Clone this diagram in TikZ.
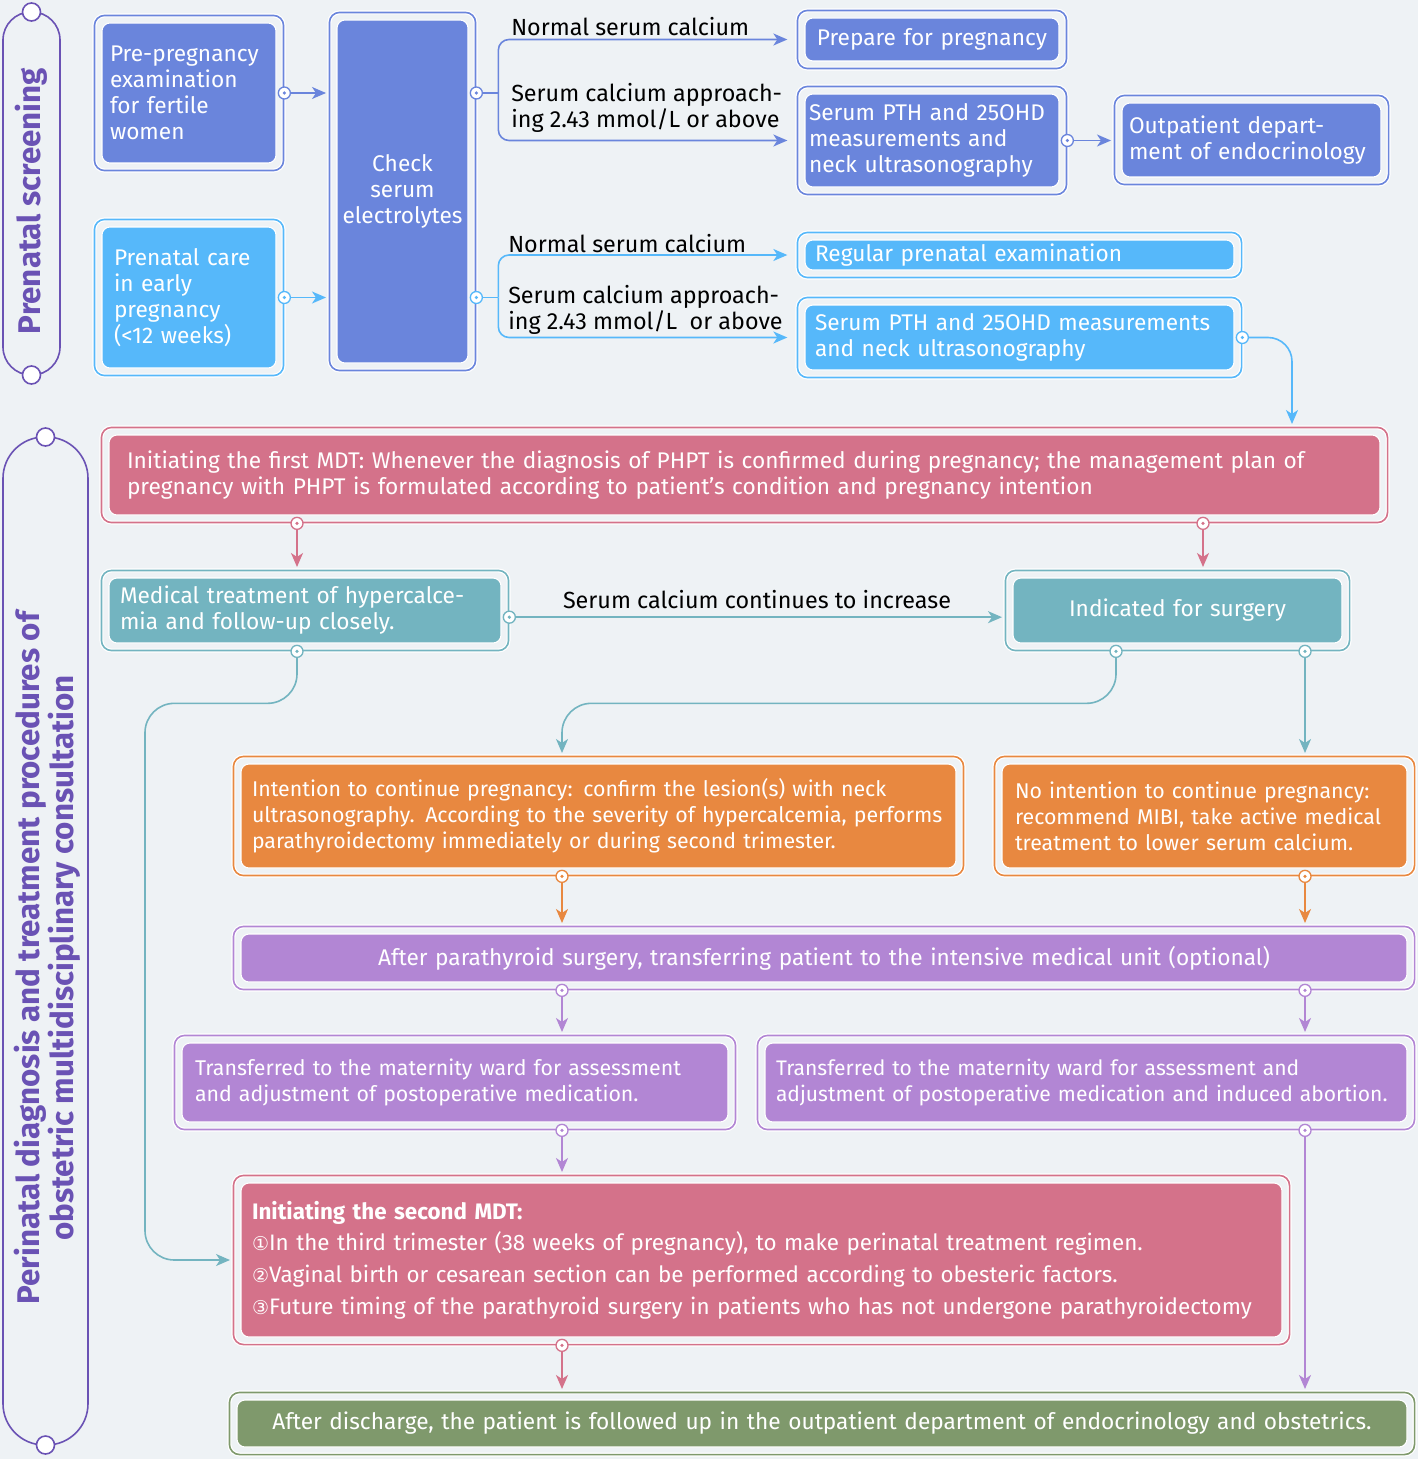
\documentclass[tikz,border=0pt]{standalone}
\usepackage{fontspec}
\setmainfont{Fira Sans}
\newfontfamily\circfont[Scale=0.85]{DejaVu Sans}
\usetikzlibrary{fit,arrows.meta}
\definecolor{bgc}{RGB}{238,242,245}
\definecolor{dblue}{RGB}{106,133,220}
\definecolor{lblue}{RGB}{86,184,250}
\definecolor{rose}{RGB}{212,114,138}
\definecolor{tealc}{RGB}{115,180,192}
\definecolor{orng}{RGB}{232,136,64}
\definecolor{lilac}{RGB}{178,134,212}
\definecolor{sage}{RGB}{127,153,108}
\definecolor{capc}{RGB}{106,82,180}
\newcommand{\boxfont}{\fontsize{17}{19.5}\selectfont}
\newcommand{\smallfont}{\fontsize{16}{19.5}\selectfont}
\newcommand{\lblfont}{\fontsize{17.5}{19.5}\selectfont}
\newcommand{\listfont}{\fontsize{16.8}{23.8}\selectfont}
\newcommand{\capfont}{\fontsize{23.5}{25.5}\selectfont\bfseries}

\begin{document}
\begin{tikzpicture}[x=0.75pt,y=0.75pt,yscale=-1,xscale=1,
    inbox/.style={inner ysep=0pt, fill=#1, draw=white, line width=0.8pt, rounded corners=6pt, text=white, font=\boxfont, align=left},
    frame/.style={inner sep=5.25pt, draw=#1, line width=1.2pt, rounded corners=7.5pt, preaction={draw=white, line width=3pt}},
    capline/.style={draw=capc, line width=1.2pt},
    captext/.style={rotate=90, text=capc, font=\capfont, align=center, inner sep=0pt},
    lnk/.style={draw=#1, line width=1.2pt},
    arr/.style={lnk=#1, -{Stealth[length=10.5pt, width=9pt, inset=3pt]}, shorten >=2pt},
    lbl/.style={inner sep=0pt, text=black, font=\lblfont, align=left},
    ring/.style={draw=#1, fill=white, line width=1pt}]
    %Background
    \path[use as bounding box, fill=bgc] (0,0) rectangle (1418,1459);
    %Capsules
    \draw[capline, rounded corners=21pt] (3,12) rectangle (60,375);
    \draw[capline, rounded corners=31pt] (3,437) rectangle (88,1445);
    \node[captext] (scr) at (31,201) {Prenatal screening};
    \node[captext] (peri) at (47,958) {Perinatal diagnosis and treatment procedures of\\obstetric multidisciplinary consultation};
    %Column positions
    \coordinate (cm) at (297,0);
    \coordinate (cs) at (1203,0);
    \coordinate (ck) at (1116,0);
    \coordinate (cl) at (562,0);
    \coordinate (cr) at (1305,0);
    \coordinate (ce) at (1292,0);
    %Rounded Rect
    \node[inbox=dblue, minimum width=130.5pt, minimum height=105pt, inner xsep=6pt, text width=118.5pt] (pre) at (189,93) {Pre-pregnancy\\examination\\for fertile\\women};
    \node[inbox=lblue, minimum width=130.5pt, minimum height=105.75pt, inner xsep=9pt, text width=112.5pt] (prc) at (189,297.5) {Prenatal care\\in early\\pregnancy\\(<12 weeks)};
    \node[inbox=dblue, minimum width=98.25pt, minimum height=257.25pt, inner xsep=1.5pt, text width=95.25pt, align=center] (chk) at (402.5,191.5) {Check\\serum\\electrolytes};
    \node[inbox=dblue, minimum width=190.5pt, minimum height=32.25pt, inner xsep=3pt, text width=184.5pt, align=center] (prep) at (932,39.5) {Prepare for pregnancy};
    \node[inbox=dblue, minimum width=190.5pt, minimum height=69.75pt, inner xsep=3pt, text width=184.5pt] (pth1) at (932,140.5) {Serum PTH and 25OHD\\measurements and\\neck ultrasonography};
    \node[inbox=dblue, minimum width=194.25pt, minimum height=55.5pt, inner xsep=5.25pt, text width=183.75pt] (out) at (1251.5,140) {Outpatient depart-\\ment of endocrinology};
    \node[inbox=lblue, minimum width=321.75pt, minimum height=22.5pt, inner xsep=7.5pt, text width=306.75pt] (reg) at (1019.5,255) {Regular prenatal examination};
    \node[inbox=lblue, minimum width=321.75pt, minimum height=48.75pt, inner xsep=7.5pt, text width=306.75pt] (pth2) at (1019.5,337.5) {Serum PTH and 25OHD measurements\\and neck ultrasonography};
    \node[inbox=rose, minimum width=953.25pt, minimum height=60pt, inner xsep=13.5pt, text width=926.25pt] (mdt1) at (744.5,475) {Initiating the first MDT: Whenever the diagnosis of PHPT is confirmed during pregnancy; the management plan of\\pregnancy with PHPT is formulated according to patient's condition and pregnancy intention};
    \node[inbox=tealc, minimum width=294pt, minimum height=48.75pt, inner xsep=8.25pt, text width=277.5pt] (med) at (305,610.5) {Medical treatment of hypercalce-\\mia and follow-up closely.};
    \node[inbox=tealc, minimum width=246.75pt, minimum height=48.75pt, inner xsep=3pt, text width=240.75pt, align=center] (ind) at (1177.5,610.5) {Indicated for surgery};
    \node[inbox=orng, minimum width=536.25pt, minimum height=78pt, inner xsep=8.25pt, text width=519.75pt, font=\smallfont] (int) at (598.5,816) {Intention to continue pregnancy: confirm the lesion(s) with neck\\ultrasonography. According to the severity of hypercalcemia, performs\\parathyroidectomy immediately or during second trimester.};
    \node[inbox=orng, minimum width=303.75pt, minimum height=78pt, inner xsep=9.75pt, text width=284.25pt, font=\smallfont] (noi) at (1204.5,816) {No intention to continue pregnancy:\\recommend MIBI, take active medical\\treatment to lower serum calcium.};
    \node[inbox=lilac, minimum width=874.5pt, minimum height=36pt, inner xsep=3pt, text width=868.5pt, align=center] (aft) at (824,958) {After parathyroid surgery, transferring patient to the intensive medical unit (optional)};
    \node[inbox=lilac, minimum width=409.5pt, minimum height=59.25pt, inner xsep=9.75pt, text width=390pt, font=\smallfont] (trl) at (455,1082.5) {Transferred to the maternity ward for assessment\\and adjustment of postoperative medication.};
    \node[inbox=lilac, minimum width=481.5pt, minimum height=59.25pt, inner xsep=8.25pt, text width=465pt, font=\fontsize{15.8}{19.5}\selectfont] (trr) at (1086,1082.5) {Transferred to the maternity ward for assessment and\\adjustment of postoperative medication and induced abortion.};
    \node[inbox=rose, minimum width=780.75pt, minimum height=115.5pt, inner xsep=8.25pt, text width=764.25pt, font=\listfont] (mdt2) at (761.5,1260) {\textbf{Initiating the second MDT:}\\{\circfont ①}In the third trimester (38 weeks of pregnancy), to make perinatal treatment regimen.\\{\circfont ②}Vaginal birth or cesarean section can be performed according to obesteric factors.\\{\circfont ③}Future timing of the parathyroid surgery in patients who has not undergone parathyroidectomy};
    \node[inbox=sage, minimum width=877.5pt, minimum height=35.25pt, inner xsep=3pt, text width=871.5pt, align=center] (dis) at (822,1423.5) {After discharge, the patient is followed up in the outpatient department of endocrinology and obstetrics.};
    %Frames
    \node[frame=dblue, fit=(pre)] (pre-f) {};
    \node[frame=lblue, fit=(prc)] (prc-f) {};
    \node[frame=dblue, fit=(chk)] (chk-f) {};
    \node[frame=dblue, fit=(prep)] (prep-f) {};
    \node[frame=dblue, fit=(pth1)] (pth1-f) {};
    \node[frame=dblue, fit=(out)] (out-f) {};
    \node[frame=lblue, fit=(reg)] (reg-f) {};
    \node[frame=lblue, fit=(pth2)] (pth2-f) {};
    \node[frame=rose, fit=(mdt1)] (mdt1-f) {};
    \node[frame=tealc, fit=(med)] (med-f) {};
    \node[frame=tealc, fit=(ind)] (ind-f) {};
    \node[frame=orng, fit=(int)] (int-f) {};
    \node[frame=orng, fit=(noi)] (noi-f) {};
    \node[frame=lilac, fit=(aft)] (aft-f) {};
    \node[frame=lilac, fit=(trl)] (trl-f) {};
    \node[frame=lilac, fit=(trr)] (trr-f) {};
    \node[frame=rose, fit=(mdt2)] (mdt2-f) {};
    \node[frame=sage, fit=(dis)] (dis-f) {};
    %Labels
    \node[lbl, anchor=west] (nsc1) at (511,27) {Normal serum calcium};
    \node[lbl, anchor=west] (apr1) at (511,108) {Serum calcium approach-\\ing 2.43 mmol/L or above};
    \node[lbl, anchor=west] (nsc2) at (508,244) {Normal serum calcium};
    \node[lbl, anchor=west] (apr2) at (508,310) {Serum calcium approach-\\ing 2.43 mmol/L\ \ or above};
    %Straight Lines
    \draw[arr=dblue] (pre-f.east) -- (pre-f.east -| chk-f.west);
    \draw[arr=lblue] (prc-f.east) -- (prc-f.east -| chk-f.west);
    \draw[lnk=dblue] (chk-f.east |- pre-f.east) -- ++(22,0) coordinate (b1);
    \draw[arr=dblue, rounded corners=8pt, shorten >=7pt] (b1) |- (prep-f.west);
    \draw[arr=dblue, rounded corners=8pt, shorten >=7pt] (b1) |- (pth1-f.west);
    \draw[lnk=lblue] (chk-f.east |- prc-f.east) -- ++(22,0) coordinate (b2);
    \draw[arr=lblue, rounded corners=8pt, shorten >=7pt] (b2) |- (reg-f.west);
    \draw[arr=lblue, rounded corners=8pt, shorten >=7pt] (b2) |- (pth2-f.west);
    \draw[arr=dblue] (pth1-f.east) -- (pth1-f.east -| out-f.west);
    \draw[arr=lblue, rounded corners=18pt] (pth2-f.east) -| (mdt1-f.north -| ce);
    \draw[arr=rose] (mdt1-f.south -| cm) -- (med-f.north -| cm);
    \draw[arr=rose] (mdt1-f.south -| cs) -- (ind-f.north -| cs);
    \coordinate (m1) at ([yshift=5pt]med-f.east);
    \draw[arr=tealc] (m1) -- (m1 -| ind-f.west) node[lbl, midway, above=6pt] (inc) {Serum calcium continues to increase};
    \draw[arr=tealc, rounded corners=22pt] (med-f.south -| cm) -- ++(0,52) -- ++(-152,0) |- (mdt2-f.west);
    \draw[arr=tealc, rounded corners=22pt] (ind-f.south -| ck) -- ++(0,52) -| (int-f.north -| cl);
    \draw[arr=tealc] (ind-f.south -| cr) -- (noi-f.north -| cr);
    \draw[arr=orng] (int-f.south -| cl) -- (aft-f.north -| cl);
    \draw[arr=orng] (noi-f.south -| cr) -- (aft-f.north -| cr);
    \draw[arr=lilac] (aft-f.south -| cl) -- (trl-f.north -| cl);
    \draw[arr=lilac] (aft-f.south -| cr) -- (trr-f.north -| cr);
    \draw[arr=lilac] (trl-f.south -| cl) -- (mdt2-f.north -| cl);
    \draw[arr=lilac] (trr-f.south -| cr) -- (dis-f.north -| cr);
    \draw[arr=rose] (mdt2-f.south -| cl) -- (dis-f.north -| cl);
    %Ellipse
    \foreach \p/\c in {pre-f.east/dblue, prc-f.east/lblue, chk-f.east |- pre-f.east/dblue, chk-f.east |- prc-f.east/lblue,
        pth1-f.east/dblue, pth2-f.east/lblue, mdt1-f.south -| cm/rose, mdt1-f.south -| cs/rose, m1/tealc,
        med-f.south -| cm/tealc, ind-f.south -| ck/tealc, ind-f.south -| cr/tealc, int-f.south -| cl/orng,
        noi-f.south -| cr/orng, aft-f.south -| cl/lilac, aft-f.south -| cr/lilac, trl-f.south -| cl/lilac,
        trr-f.south -| cr/lilac, mdt2-f.south -| cl/rose}{
        \filldraw[ring=\c] (\p) circle (6);
        \fill[\c] (\p) circle (1.8);
    }
    \filldraw[ring=capc, line width=1.2pt] (31.5,12) circle (9);
    \filldraw[ring=capc, line width=1.2pt] (31.5,375) circle (9);
    \filldraw[ring=capc, line width=1.2pt] (45.5,437) circle (9);
    \filldraw[ring=capc, line width=1.2pt] (45.5,1445) circle (9);
\end{tikzpicture}
\end{document}
